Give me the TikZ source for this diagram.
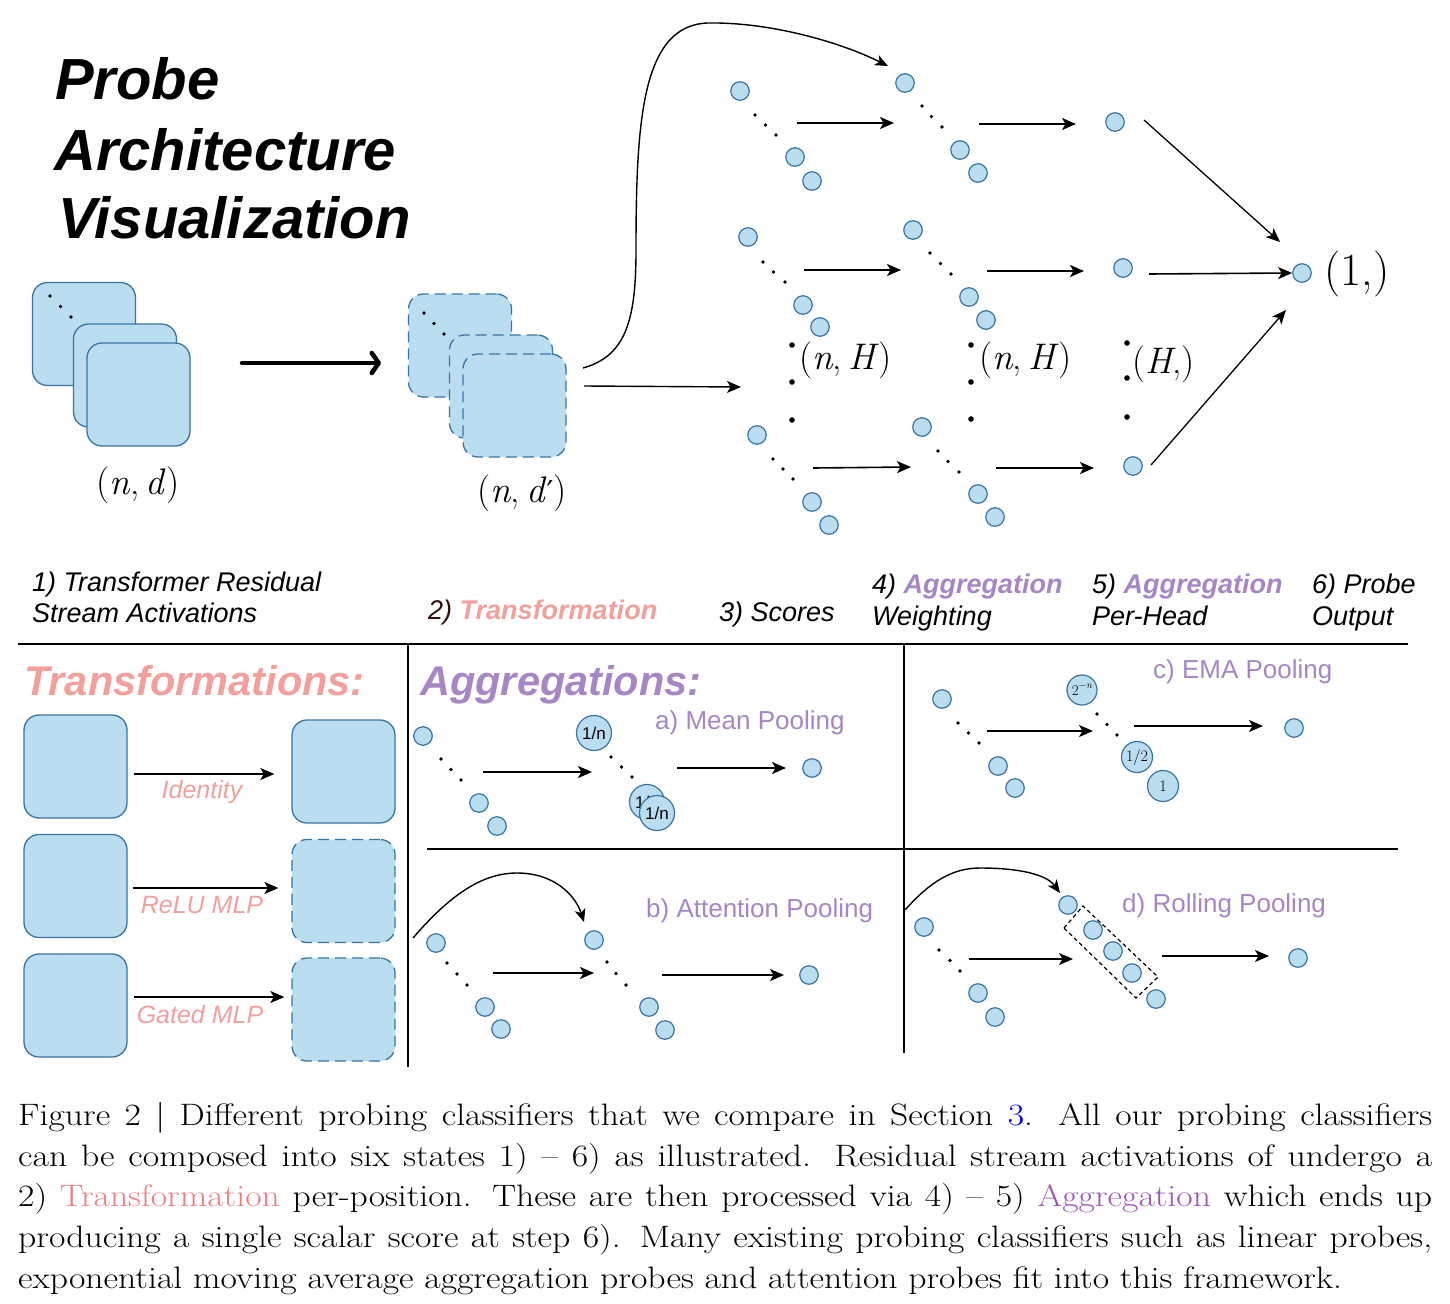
\documentclass[tikz,border=0pt]{standalone}
\usepackage{fontspec}
\setsansfont{Liberation Sans}
\newfontfamily\capfont[FakeStretch=1.15]{Latin Modern Roman}
\newfontfamily\mfont{Latin Modern Roman}
\newfontfamily\primefont{DejaVu Serif}
\usetikzlibrary{arrows.meta}
\definecolor{fillb}{RGB}{187,221,240}
\definecolor{bord}{RGB}{58,116,164}
\definecolor{salmon}{RGB}{243,160,156}
\definecolor{purp}{RGB}{166,134,196}
\definecolor{capsalmon}{RGB}{238,128,128}
\definecolor{cappurp}{RGB}{155,89,182}
\definecolor{darkbr}{RGB}{50,15,15}
\newcommand\mi[1]{\textit{#1}}
\begin{document}
\begin{tikzpicture}[x=1pt,y=-1pt,
  sq/.style={draw=bord, fill=fillb, line width=1.3pt, rounded corners=15pt, minimum width=103pt, minimum height=103pt, inner sep=0pt},
  dsq/.style={sq, dash pattern=on 11pt off 6pt},
  pt/.style={circle, draw=bord, fill=fillb, line width=1.2pt, minimum size=18.5pt, inner sep=0pt},
  bigc/.style={circle, draw=bord, fill=fillb, line width=1.2pt, minimum size=35pt, inner sep=0pt},
  arr/.style={line width=1.6pt, -{Stealth[length=14pt,width=12pt,inset=3.5pt]}},
  thinarr/.style={line width=1.3pt, -{Stealth[length=14pt,width=12pt,inset=3.5pt]}},
  curvearr/.style={line width=1.4pt, -{Stealth[length=13pt,width=11pt,inset=3.5pt]}},
  lab/.style={anchor=base west, inner sep=0pt, font=\sffamily\itshape\fontsize{27}{27}\selectfont},
  plab/.style={anchor=base west, inner sep=0pt, text=purp, font=\sffamily\fontsize{26}{26}\selectfont},
  tlab/.style={anchor=base, inner sep=0pt, text=salmon, font=\sffamily\itshape\fontsize{25}{25}\selectfont},
  headtxt/.style={anchor=base west, inner sep=0pt, font=\sffamily\bfseries\itshape\fontsize{41.5}{41.5}\selectfont},
  mlab/.style={inner sep=0pt, font=\mfont\fontsize{37}{37}\selectfont},
  captxt/.style={anchor=base west, inner sep=0pt, font=\capfont\fontsize{31}{31}\selectfont},
  rulel/.style={line width=2.8pt},
]
\useasboundingbox (0,0) rectangle (1450,1303);
\fill[white] (0,0) rectangle (1450,1303);

% ---------------- Title ----------------
\begin{scope}[every node/.style={anchor=base west, inner sep=0pt, font=\sffamily\bfseries\itshape\fontsize{58}{58}\selectfont}]
\node (t1) at (55,100) {Probe};
\node (t2) at (54,170) {Architecture};
\node (t3) at (58,238) {Visualization};
\end{scope}

% ---------------- Stack 1 (solid) ----------------
\node[sq] (s1a) at (84,334) {};
\node[sq] (s1b) at (125,375.5) {};
\node[sq] (s1c) at (138.5,394.5) {};
\fill (50,296) circle (1.8pt) (60.5,306.5) circle (1.8pt) (71,317) circle (1.8pt);
\node[mlab, anchor=base] (nd) at (138,494) {(\mi{n},\thinspace\mi{d})};

% thick arrow
\coordinate (ta) at (242,363);
\coordinate (tb) at (381,363);
\draw[line width=4.5pt, line cap=round, -{Straight Barb[length=7pt,width=20pt,round]}] (ta) -- (tb);

% ---------------- Stack 2 (dashed) ----------------
\node[dsq] (s2a) at (460,345.5) {};
\node[dsq] (s2b) at (501,386.5) {};
\node[dsq] (s2c) at (514.5,405.5) {};
\fill (424,313) circle (1.8pt) (434,323.5) circle (1.8pt) (444,334) circle (1.8pt);
\node[mlab, anchor=base] (ndp) at (522,502) {(\mi{n},\thinspace\mi{d}{\primefont\fontsize{30}{30}\selectfont ′})};

% curve to top group and straight arrow to middle
\coordinate (cs) at (583,368);
\coordinate (ce) at (888,66);
\draw[curvearr] (cs) .. controls (626,356) and (636,320) .. (636,250)
   .. controls (636,120) and (642,25) .. (708,23)
   .. controls (770,22) and (840,42) .. (ce);
\coordinate (ms) at (584,386);
\coordinate (me) at (741,387);
\draw[arr, line width=1.4pt] (ms) -- (me);

% ---------------- Scores groups ----------------
% top row
\node[pt] (a1) at (740,91) {};
\node[pt] (a2) at (795,157) {};
\node[pt] (a3) at (812,181) {};
\fill (755,115) circle (1.8pt) (765.5,125) circle (1.8pt) (776,135) circle (1.8pt);
\node[pt] (b1) at (905,83) {};
\node[pt] (b2) at (960,150) {};
\node[pt] (b3) at (978,173) {};
\fill (922,106) circle (1.8pt) (931.5,116.5) circle (1.8pt) (942,127) circle (1.8pt);
\node[pt] (c1) at (1115,122) {};
\draw[arr] (797,123) -- (894,123);
\draw[arr] (979,124) -- (1076,124);
\draw[thinarr] (1144,120) -- (1280,242);

% middle row
\node[pt] (a4) at (748,237) {};
\node[pt] (a5) at (803,305) {};
\node[pt] (a6) at (820,327) {};
\fill (763,262) circle (1.8pt) (773.5,272) circle (1.8pt) (785,282) circle (1.8pt);
\node[pt] (b4) at (913,230) {};
\node[pt] (b5) at (969,297) {};
\node[pt] (b6) at (986,320) {};
\fill (930,253) circle (1.8pt) (940.5,263.5) circle (1.8pt) (951,274) circle (1.8pt);
\node[pt] (c2) at (1123,268) {};
\node[pt] (fin) at (1302,273) {};
\draw[arr] (804,270) -- (901,270);
\draw[arr] (987,271) -- (1084,271);
\draw[arr] (1149,274) -- (fin.west);
\node[inner sep=0pt, font=\mfont\fontsize{46}{46}\selectfont, anchor=base west] (one) at (1324,285) {(1,)};

% bottom row
\node[pt] (a7) at (757,435) {};
\node[pt] (a8) at (812,502) {};
\node[pt] (a9) at (829,525) {};
\fill (773,459) circle (1.8pt) (783,469) circle (1.8pt) (793,479) circle (1.8pt);
\node[pt] (b7) at (922,427) {};
\node[pt] (b8) at (978,494) {};
\node[pt] (b9) at (995,517) {};
\fill (938,451) circle (1.8pt) (948,461.5) circle (1.8pt) (959,472) circle (1.8pt);
\node[pt] (c3) at (1133,466) {};
\draw[arr] (813,468) -- (911,467);
\draw[arr] (996,468) -- (1094,468);
\draw[thinarr] (1151,465) -- (1286,310);

% vertical dots and shapes
\fill (792,345) circle (2.8pt) (792,382) circle (2.8pt) (792,420) circle (2.8pt);
\fill (971,345) circle (2.8pt) (971,382) circle (2.8pt) (971,419) circle (2.8pt);
\fill (1127,343) circle (2.8pt) (1127,378) circle (2.8pt) (1127,417) circle (2.8pt);
\node[mlab, anchor=base west] (nh1) at (799,369) {(\mi{n},\thinspace\mi{H})};
\node[mlab, anchor=base west] (nh2) at (979,369) {(\mi{n},\thinspace\mi{H})};
\node[mlab, anchor=base west] (hh) at (1132,373) {(\mi{H},)};

% ---------------- Step labels ----------------
\node[lab] (l1a) at (32,591) {1) Transformer Residual};
\node[lab] (l1b) at (32,622) {Stream Activations};
\node[lab] (l2) at (428,619) {\textcolor{darkbr}{2)} \textcolor{salmon}{\bfseries Transformation}};
\node[lab] (l3) at (719,621) {3) Scores};
\node[lab] (l4a) at (872,593) {4) \textcolor{purp}{\bfseries Aggregation}};
\node[lab] (l4b) at (872,625) {Weighting};
\node[lab] (l5a) at (1092,593) {5) \textcolor{purp}{\bfseries Aggregation}};
\node[lab] (l5b) at (1092,625) {Per-Head};
\node[lab] (l6a) at (1312,593) {6) Probe};
\node[lab] (l6b) at (1312,625) {Output};

% ---------------- Panel rules ----------------
\coordinate (h1a) at (18,644);
\coordinate (h1b) at (1408,644);
\draw[rulel] (h1a) -- (h1b);
\coordinate (v1a) at (408,644);
\coordinate (v1b) at (408,1067);
\draw[rulel] (v1a) -- (v1b);
\coordinate (v2a) at (904,644);
\coordinate (v2b) at (904,1053);
\draw[rulel] (v2a) -- (v2b);
\coordinate (h2a) at (427,849);
\coordinate (h2b) at (1398,849);
\draw[rulel] (h2a) -- (h2b);

% ---------------- Transformations panel ----------------
\node[headtxt, text=salmon] (thead) at (24,695) {Transformations:};
\node[sq] (tl1) at (75.5,766.5) {};
\node[sq] (tl2) at (75.5,886) {};
\node[sq] (tl3) at (75.5,1005.5) {};
\node[sq] (tr1) at (343.5,771.5) {};
\node[dsq] (tr2) at (343.5,891) {};
\node[dsq] (tr3) at (343.5,1009.5) {};
\draw[arr] ([shift={(6,7.5)}]tl1.east) -- ([shift={(-17,2.5)}]tr1.west);
\draw[arr] ([shift={(5,2)}]tl2.east) -- ([shift={(-13,-3)}]tr2.west);
\draw[arr] ([shift={(6,-8.5)}]tl3.east) -- ([shift={(-7,-12.5)}]tr3.west);
\node[tlab] (id) at (202,798) {Identity};
\node[tlab] (relu) at (202,913) {ReLU MLP};
\node[tlab] (gated) at (200,1023) {Gated MLP};

% ---------------- Aggregations: a) mean ----------------
\node[headtxt, text=purp] (ahead) at (420,695) {Aggregations:};
\node[plab] (mp) at (655,729) {a) Mean Pooling};
\node[pt] (m1) at (423,736) {};
\node[pt] (m2) at (479,803) {};
\node[pt] (m3) at (497,826) {};
\fill (441,759) circle (1.8pt) (451,769.5) circle (1.8pt) (461,780) circle (1.8pt);
\draw[arr] (483,772) -- (592,772);
\node[bigc, font=\sffamily\fontsize{17}{17}\selectfont] (mw1) at (594,733) {1/n};
\fill (611,757) circle (1.8pt) (621.5,767) circle (1.8pt) (632,777) circle (1.8pt);
\node[bigc, font=\sffamily\fontsize{17}{17}\selectfont] (mw2) at (647,802) {1/n};
\node[bigc, font=\sffamily\fontsize{17}{17}\selectfont] (mw3) at (657,813) {1/n};
\draw[arr] (677,768) -- (786,768);
\node[pt] (mo) at (812,768) {};

% ---------------- c) EMA ----------------
\node[plab] (ema) at (1153,678) {c) EMA Pooling};
\node[pt] (e1) at (942,699) {};
\node[pt] (e2) at (998,766) {};
\node[pt] (e3) at (1015,788) {};
\fill (958,723) circle (1.8pt) (968.5,733) circle (1.8pt) (979,743) circle (1.8pt);
\draw[arr] (987,731) -- (1093,731);
\node[bigc, minimum size=30pt, font=\mfont\fontsize{15}{15}\selectfont] (ew1) at (1082,690) {2\raisebox{0.45em}{\fontsize{10}{10}\selectfont −\mi{n}}};
\fill (1097,714) circle (1.8pt) (1107,724.5) circle (1.8pt) (1117,735) circle (1.8pt);
\node[bigc, minimum size=31pt, font=\mfont\fontsize{16}{16}\selectfont] (ew2) at (1137,757) {1/2};
\node[bigc, minimum size=31pt, font=\mfont\fontsize{16}{16}\selectfont] (ew3) at (1163,786) {1};
\draw[arr] (1134,726) -- (1263,726);
\node[pt] (eo) at (1294,728) {};

% ---------------- b) Attention ----------------
\node[plab] (att) at (646,917) {b) Attention Pooling};
\node[pt] (q1) at (436,943) {};
\node[pt] (q2) at (485,1007) {};
\node[pt] (q3) at (501,1029) {};
\fill (447,963) circle (1.8pt) (457,974) circle (1.8pt) (467,985) circle (1.8pt);
\coordinate (qa) at (413,938);
\draw[curvearr] (qa) .. controls (450,895) and (482,873) .. (517,873)
   .. controls (556,873) and (576,897) .. (584,922);
\draw[arr] (493,973) -- (594,973);
\node[pt] (r1) at (594,940) {};
\node[pt] (r2) at (649,1007) {};
\node[pt] (r3) at (665,1030) {};
\fill (607,962) circle (1.8pt) (616,973.5) circle (1.8pt) (626,985) circle (1.8pt);
\draw[arr] (662,975) -- (784,975);
\node[pt] (ao) at (809,975) {};

% ---------------- d) Rolling ----------------
\node[plab] (roll) at (1122,912) {d) Rolling Pooling};
\node[pt] (o1) at (924,927) {};
\node[pt] (o2) at (978,993) {};
\node[pt] (o3) at (995,1017) {};
\fill (939,950) circle (1.8pt) (950,960.5) circle (1.8pt) (960,971) circle (1.8pt);
\coordinate (oa) at (905,910);
\draw[curvearr] (oa) .. controls (930,882) and (952,868) .. (980,868)
   .. controls (1018,868) and (1046,874) .. (1060,893);
\draw[arr] (969,959) -- (1073,959);
\draw[line width=1.2pt, dash pattern=on 4pt off 3pt] (1064,928) -- (1083,906) -- (1158,977) -- (1136,998) -- cycle;
\node[pt] (w1) at (1068,905) {};
\node[pt] (w2) at (1093,930) {};
\node[pt] (w3) at (1113,951) {};
\node[pt] (w4) at (1132,973) {};
\node[pt] (w5) at (1156,999) {};
\draw[arr] (1162,956) -- (1269,956);
\node[pt] (wo) at (1298,958) {};

% ---------------- Caption ----------------
\node[captxt] (cap1) at (18,1125) {\makebox[1414pt][s]{Figure 2 | Different probing classifiers that we compare in Section \textcolor{blue}{3}.  All our probing classifiers}};
\node[captxt] (cap2) at (18,1166) {\makebox[1414pt][s]{can be composed into six states 1) – 6) as illustrated.  Residual stream activations of undergo a}};
\node[captxt] (cap3) at (18,1206) {\makebox[1414pt][s]{2) \textcolor{capsalmon}{Transformation} per-position. These are then processed via 4) – 5) \textcolor{cappurp}{Aggregation} which ends up}};
\node[captxt] (cap4) at (18,1247) {\makebox[1414pt][s]{producing a single scalar score at step 6). Many existing probing classifiers such as linear probes,}};
\node[captxt] (cap5) at (18,1288) {exponential moving average aggregation probes and attention probes fit into this framework.};
\end{tikzpicture}
\end{document}
